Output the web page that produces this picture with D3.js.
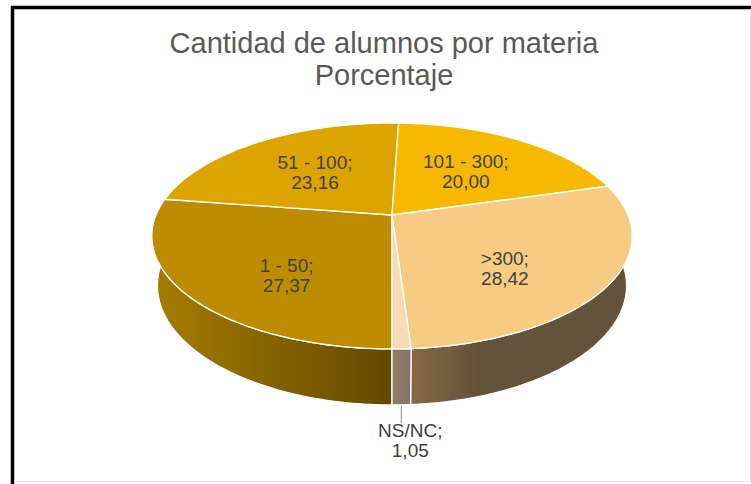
<!DOCTYPE html>
<html lang="es">
<head>
<meta charset="utf-8">
<script src="https://cdn.jsdelivr.net/npm/d3@7"></script>
<style>
  body { margin: 0; background: #fff; }
  svg { display: block; }
</style>
</head>
<body>
<script>
// datos
var categories = ["1 - 50", "51 - 100", "101 - 300", ">300", "NS/NC"];
var values = [27.37, 23.16, 20.00, 28.42, 1.05];
var titleLines = ["Cantidad de alumnos por materia", "Porcentaje"];

// colores: cara superior y lateral (claro -> oscuro)
var topColors = ["#BD8C00", "#DDA400", "#F7B900", "#F8CB82", "#F9DAB3"];
var sideLight = ["#A67D00", "#B88A00", "#CC9900", "#87694A", "#8C7C69"];
var sideDark  = ["#624800", "#6E5200", "#7A5C00", "#63533A", "#85765F"];
var sideStop  = [1, 1, 1, 0.3, 1];

var w = 751, h = 484;
var cx = 392, cy = 215, R = 236;
var tilt = Math.asin(0.462), D = 4.77, H = 0.239;

var svg = d3.select("body").append("svg")
  .attr("width", w)
  .attr("height", h);

// marco
svg.append("rect").attr("x", 0).attr("y", 0).attr("width", w).attr("height", h).attr("fill", "#fff");
svg.append("line").attr("x1", 12.5).attr("y1", 6).attr("x2", 12.5).attr("y2", h)
  .attr("stroke", "#000").attr("stroke-width", 3.5);
svg.append("line").attr("x1", 11).attr("y1", 7.5).attr("x2", w).attr("y2", 7.5)
  .attr("stroke", "#000").attr("stroke-width", 3.5);
svg.append("line").attr("x1", 750.5).attr("y1", 9).attr("x2", 750.5).attr("y2", 482)
  .attr("stroke", "#e4e4e4").attr("stroke-width", 1);
svg.append("line").attr("x1", 14).attr("y1", 481.5).attr("x2", w).attr("y2", 481.5)
  .attr("stroke", "#e4e4e4").attr("stroke-width", 1);

// título
svg.append("g").selectAll("text")
  .data(titleLines)
  .enter()
  .append("text")
  .text(function(d) { return d; })
  .attr("x", 384)
  .attr("y", function(d, i) { return 53 + i * 32; })
  .attr("text-anchor", "middle")
  .attr("font-family", "'Liberation Sans', Arial, sans-serif")
  .attr("font-size", "29px")
  .attr("fill", "#595959");

// proyección en perspectiva de un punto del disco (phi en sentido horario desde atrás)
function proj(phi, r, y) {
  var X = r * Math.sin(phi), Z = -r * Math.cos(phi);
  var depth = (Z * Math.cos(tilt) + y * Math.sin(tilt)) / D;
  var s = R / (1 - depth);
  return [cx + s * X, cy + s * (Z * Math.sin(tilt) - y * Math.cos(tilt))];
}

function arcPoints(a0, a1, r, y) {
  var n = Math.max(2, Math.ceil(Math.abs(a1 - a0) / 0.02));
  return d3.range(n + 1).map(function(i) {
    return proj(a0 + (a1 - a0) * i / n, r, y);
  });
}

var pie = d3.pie().sort(null).startAngle(Math.PI).endAngle(3 * Math.PI);
var arcs = pie(values);
var line = d3.line();

var defs = svg.append("defs");

// laterales, de atrás hacia adelante
var walls = arcs.map(function(d, i) {
  var pts = arcPoints(d.startAngle, d.endAngle, 1, 0)
    .concat(arcPoints(d.endAngle, d.startAngle, 1, -H));
  var xs = pts.map(function(p) { return p[0]; });
  var g = defs.append("linearGradient")
    .attr("id", "side" + i)
    .attr("gradientUnits", "userSpaceOnUse")
    .attr("x1", d3.min(xs)).attr("x2", d3.max(xs))
    .attr("y1", 0).attr("y2", 0);
  g.append("stop").attr("offset", 0).attr("stop-color", sideLight[i]);
  g.append("stop").attr("offset", sideStop[i]).attr("stop-color", sideDark[i]);
  return { i: i, pts: pts, depth: -Math.cos((d.startAngle + d.endAngle) / 2) };
}).sort(function(a, b) { return a.depth - b.depth; });

svg.append("g").selectAll("path")
  .data(walls)
  .enter()
  .append("path")
  .attr("d", function(d) { return line(d.pts) + "Z"; })
  .attr("fill", function(d) { return "url(#side" + d.i + ")"; })
  .attr("stroke", "#fff")
  .attr("stroke-width", 1.3)
  .attr("stroke-linejoin", "round");

// caras superiores
svg.append("g").selectAll("path")
  .data(arcs)
  .enter()
  .append("path")
  .attr("d", function(d) {
    return line([proj(0, 0, 0)].concat(arcPoints(d.startAngle, d.endAngle, 1, 0))) + "Z";
  })
  .attr("fill", function(d, i) { return topColors[i]; })
  .attr("stroke", "#fff")
  .attr("stroke-width", 1.3)
  .attr("stroke-linejoin", "round");

// etiquetas
function fmt(v) { return v.toFixed(2).replace(".", ","); }

var labels = svg.append("g")
  .attr("font-family", "'Liberation Sans', Arial, sans-serif")
  .attr("font-size", "19px")
  .attr("fill", "#404040")
  .attr("text-anchor", "middle");

arcs.forEach(function(d, i) {
  var mid = (d.startAngle + d.endAngle) / 2;
  var x, y;
  if (d.value >= 5) {
    var p = proj(mid, 0.55, 0);
    x = p[0];
    y = p[1] + 28 * Math.max(0, -Math.cos(mid)) - 3;
  } else {
    var b = proj(mid, 1, -H);
    svg.append("line")
      .attr("x1", b[0]).attr("y1", b[1] + 1)
      .attr("x2", b[0]).attr("y2", b[1] + 18)
      .attr("stroke", "#8C8C8C").attr("stroke-width", 1);
    x = b[0] + 9;
    y = b[1] + 32;
  }
  var t = labels.append("text").attr("x", x).attr("y", y);
  t.append("tspan").attr("x", x).attr("y", y).text(categories[i] + ";");
  t.append("tspan").attr("x", x).attr("y", y + 20).text(fmt(d.value));
});
</script>
</body>
</html>
